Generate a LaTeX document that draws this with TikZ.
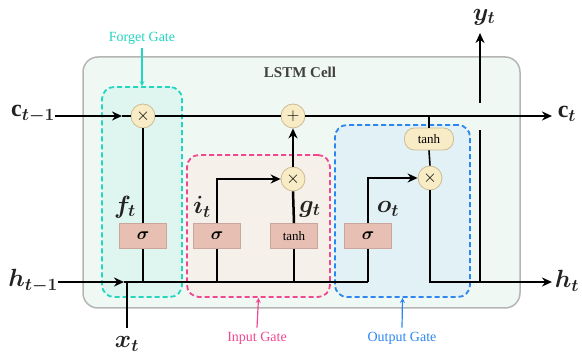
\documentclass[tikz,border=0pt]{standalone}
\usepackage{fontspec}
\usepackage{bm}
\setmainfont{Liberation Serif}
\usetikzlibrary{arrows.meta}
\definecolor{cellfill}{HTML}{EFF8F3}
\definecolor{cellline}{HTML}{B5B5B5}
\definecolor{fgcol}{HTML}{22D6C0}
\definecolor{fgfill}{HTML}{DFF6F0}
\definecolor{igcol}{HTML}{F0478F}
\definecolor{igfill}{HTML}{F5F1EA}
\definecolor{ogcol}{HTML}{2D86F0}
\definecolor{ogfill}{HTML}{E2F1F5}
\definecolor{sigfill}{HTML}{E7C0B3}
\definecolor{sigline}{HTML}{C9A79C}
\definecolor{opfill}{HTML}{F8ECC6}
\definecolor{opline}{HTML}{CDBB92}
\definecolor{txt}{HTML}{222222}
\tikzset{
  gatebox/.style={draw, line width=1.8pt, rounded corners=12pt, dash pattern=on 5pt off 3pt},
  actbox/.style={draw=sigline, fill=sigfill, line width=0.8pt, minimum width=47pt, minimum height=25pt, inner sep=0pt, font=\fontsize{19}{20}\selectfont},
  opnode/.style={circle, draw=opline, fill=opfill, line width=0.8pt, minimum size=24pt, inner sep=0pt, font=\fontsize{18}{18}\selectfont},
  thnode/.style={rounded corners=10pt, draw=opline, fill=opfill, line width=0.8pt, minimum width=49pt, minimum height=22pt, inner sep=0pt, font=\fontsize{13}{14}\selectfont},
  wire/.style={line width=2.5pt, black},
  thin/.style={line width=1.6pt, black},
  arr/.style={-{Stealth[length=10pt,width=9pt]}},
  lbl/.style={font=\fontsize{24}{27}\selectfont, inner sep=0pt, text=txt},
  glabel/.style={font=\fontsize{14}{16}\selectfont, inner sep=0pt},
}
\begin{document}
\begin{tikzpicture}[x=1pt,y=-1pt]
\useasboundingbox (0,0) rectangle (582,358);
% cell
\node[draw=cellline, fill=cellfill, line width=1.5pt, rounded corners=15pt, minimum width=437pt, minimum height=251pt, inner sep=0pt] (cell) at (301.5,182.5) {};
\node[font=\fontsize{15}{17}\selectfont\bfseries, text=black!75] (celllbl) at (300,72) {LSTM Cell};
% gate boxes
\node[gatebox, draw=fgcol, fill=fgfill, minimum width=80pt, minimum height=210pt] (fg) at (142,192) {};
\node[gatebox, draw=igcol, fill=igfill, minimum width=143pt, minimum height=142pt] (ig) at (258.5,226) {};
\node[gatebox, draw=ogcol, fill=ogfill, minimum width=135pt, minimum height=172pt] (og) at (402.5,211) {};
% gate labels
\node[glabel, text=fgcol] (fgl) at (142,38) {Forget Gate};
\node[glabel, text=igcol] (igl) at (257,338) {Input Gate};
\node[glabel, text=ogcol] (ogl) at (402,338) {Output Gate};
\draw[fgcol, line width=1.2pt, -{Stealth[length=5pt,width=5pt]}] (fgl.south) ++(0,4) -- (fg.north);
\draw[igcol, line width=1.2pt, -{Stealth[length=5pt,width=5pt]}] (igl.north) ++(0,-4) -- (ig.south);
\draw[ogcol, line width=1.2pt, -{Stealth[length=5pt,width=5pt]}] (ogl.north) ++(0,-4) -- (og.south);
% operators
\node[opnode] (mf) at (143,116) {$\times$};
\node[opnode] (add) at (293,116) {$+$};
\node[opnode] (mi) at (293,179) {$\times$};
\node[opnode] (mo) at (430,178) {$\times$};
\node[thnode] (th) at (429,139) {tanh};
% activation boxes
\node[actbox] (sf) at (143,236) {$\bm{\sigma}$};
\node[actbox] (si) at (217,236) {$\bm{\sigma}$};
\node[actbox, font=\fontsize{13}{14}\selectfont] (tg) at (294,236) {tanh};
\node[actbox] (so) at (368,236) {$\bm{\sigma}$};
% labels
\node[lbl] (cin) at (33,114) {$\bm{\mathrm{c}_{t-1}}$};
\node[lbl] (hin) at (33,281) {$\bm{h_{t-1}}$};
\node[lbl] (cout) at (567,114) {$\bm{\mathrm{c}_t}$};
\node[lbl] (hout) at (567,281) {$\bm{h_t}$};
\node[lbl] (xt) at (127,344) {$\bm{x_t}$};
\node[lbl] (yt) at (484,17) {$\bm{y_t}$};
\node[lbl] (ft) at (125,207) {$\bm{f_t}$};
\node[lbl] (it) at (202,207) {$\bm{i_t}$};
\node[lbl] (gt) at (310,209) {$\bm{g_t}$};
\node[lbl] (ot) at (388,209) {$\bm{o_t}$};
% coordinates
\coordinate (ca) at (122,116);
\coordinate (ha) at (124,282);
\coordinate (hx) at (127,282);
\coordinate (hs) at (143,282);
\coordinate (hi) at (217,282);
\coordinate (hg) at (294,282);
\coordinate (ho) at (368,282);
\coordinate (ctap) at (429,116);
\coordinate (ysplit) at (480,282);
\coordinate (ytop) at (480,130);
\coordinate (ybot) at (480,103);
\coordinate (yend) at (480,33);
\coordinate (cend) at (552,116);
\coordinate (hend) at (552,282);
\coordinate (xbot) at (127,328);
% cell state line
\draw[wire, arr] (cin.east |- ca) -- (ca);
\draw[wire] (ca) -- (mf.west);
\draw[wire] (mf.east) -- (add.west);
\draw[wire, arr] (add.east) -- (cend);
% hidden/input line
\draw[wire, arr] (hin.east |- ha) -- (ha);
\draw[wire] (ha) -- (ho);
\draw[wire] (xbot) -- (hx);
% forget gate
\draw[wire] (hs) -- (sf.south);
\draw[wire] (sf.north) -- (mf.south);
% input gate
\draw[wire] (hi) -- (si.south);
\draw[wire, arr] (si.north) |- (mi.west);
\draw[wire] (hg) -- (tg.south);
\draw[wire] (tg.north) -- (mi.south);
\draw[wire, arr] (mi.north) -- (add.south);
% output gate
\draw[wire] (ho) -- (so.south);
\draw[wire, arr] (so.north) |- (mo.west);
\draw[thin] (ctap) -- (th.north);
\draw[thin] (th.south) -- (mo.north);
\draw[wire, arr] (mo.south) |- (hend);
\draw[wire] (ysplit) -- (ytop);
\draw[wire, arr] (ybot) -- (yend);
\end{tikzpicture}
\end{document}
